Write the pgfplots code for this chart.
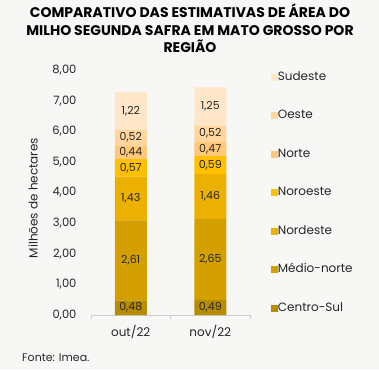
\documentclass[border=0pt]{standalone}
\usepackage{pgfplots}
\pgfplotsset{compat=1.18}
\usepackage{fontspec}
\setmainfont{Poppins}
\definecolor{bg}{HTML}{F7F7F5}
\definecolor{txt}{HTML}{262626}
\definecolor{cs}{HTML}{B88C00}
\definecolor{mn}{HTML}{D4A000}
\definecolor{ne}{HTML}{EBB000}
\definecolor{no}{HTML}{FFC000}
\definecolor{nt}{HTML}{FFC979}
\definecolor{oe}{HTML}{FFD69E}
\definecolor{su}{HTML}{FFE6C8}
\pgfplotsset{
  frame/.style={at={(91pt,55pt)}, anchor=south west,
  scale only axis, width=159pt, height=245pt,
  xmin=-0.5, xmax=1.5, ymin=0, ymax=8}
}
\begin{document}
\begin{tikzpicture}[x=1pt,y=1pt]
\fill[bg] (0,0) rectangle (379,370);
\node[font=\bfseries\fontsize{14}{17.5}\selectfont, align=center, anchor=north, inner sep=0pt] at (190,366) {COMPARATIVO DAS ESTIMATIVAS DE ÁREA DO\\MILHO SEGUNDA SAFRA EM MATO GROSSO POR\\REGIÃO};
\node[rotate=90, font=\fontsize{12}{12}\selectfont, text=txt] at (33,172) {Milhões de hectares};
\node[anchor=west, font=\fontsize{11}{11}\selectfont, text=txt, inner sep=0pt] at (22,12) {Fonte: Imea.};
\begin{axis}[
  frame,
  ybar stacked, bar width=32pt,
  separate axis lines,
  axis x line*=bottom, axis y line*=left,
  y axis line style={draw=none},
  x axis line style={draw=black!20, line width=0.8pt},
  tick align=outside,
  xtick={-0.5,0.5,1.5}, xticklabels={},
  xtick style={draw=black!20, line width=0.8pt},
  major tick length=4pt,
  extra x ticks={0,1}, extra x tick labels={out/22,nov/22},
  extra x tick style={major tick length=0pt},
  xticklabel style={yshift=-7pt, font=\fontsize{12}{12}\selectfont},
  ytick={0,1,...,8},
  ytick style={draw=none},
  ticklabel style={font=\fontsize{11.5}{12}\selectfont, text=txt},
  yticklabel style={xshift=-7pt, /pgf/number format/.cd, fixed, fixed zerofill, precision=2, use comma, assume math mode=true},
  legend image code/.code={\fill[#1] (0pt,-3.5pt) rectangle (7pt,3.5pt);},
  reverse legend,
  legend style={at={(rel axis cs:1.13,0.992)}, anchor=north west, draw=none, fill=none,
    font=\fontsize{12}{13}\selectfont, text=txt, row sep=28.5pt, inner sep=0pt,
    nodes={inner sep=0pt, text height=8pt, text depth=2pt},
    /tikz/every even column/.append style={column sep=4pt}},
  legend cell align=left,
]
\addplot[fill=cs, draw=none] coordinates {(0,0.48) (1,0.49)};
\addplot[fill=mn, draw=none] coordinates {(0,2.61) (1,2.65)};
\addplot[fill=ne, draw=none] coordinates {(0,1.43) (1,1.46)};
\addplot[fill=no, draw=none] coordinates {(0,0.57) (1,0.59)};
\addplot[fill=nt, draw=none] coordinates {(0,0.44) (1,0.47)};
\addplot[fill=oe, draw=none] coordinates {(0,0.52) (1,0.52)};
\addplot[fill=su, draw=none] coordinates {(0,1.22) (1,1.25)};
\legend{Centro-Sul,Médio-norte,Nordeste,Noroeste,Norte,Oeste,Sudeste}
\end{axis}
\begin{axis}[frame, hide axis, clip=false]
\addplot[only marks, mark=none, point meta=explicit symbolic,
  nodes near coords,
  every node near coord/.style={anchor=center, inner sep=0pt, font=\fontsize{11}{12}\selectfont, text=txt}]
  table[meta=lab] {
x y lab
0 0.24 0,48
0 1.785 2,61
0 3.805 1,43
0 4.805 0,57
0 5.31 0,44
0 5.79 0,52
0 6.66 1,22
1 0.245 0,49
1 1.815 2,65
1 3.87 1,46
1 4.895 0,59
1 5.425 0,47
1 5.92 0,52
1 6.805 1,25
};
\end{axis}
\end{tikzpicture}
\end{document}
